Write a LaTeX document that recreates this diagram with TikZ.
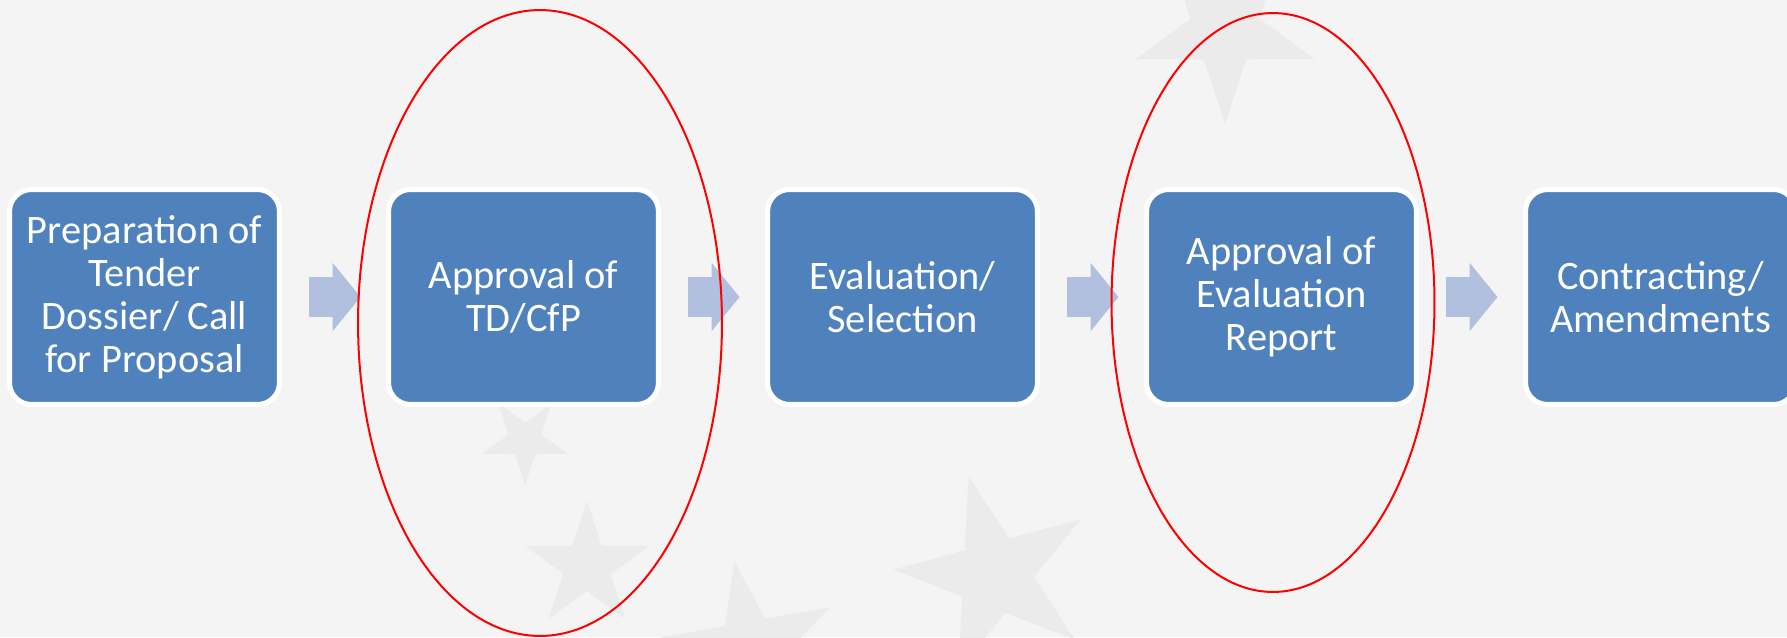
\documentclass[tikz,border=0pt]{standalone}
\usepackage{fontspec}
\setmainfont{Carlito}
\usetikzlibrary{arrows.meta,shapes.geometric}
\definecolor{boxblue}{RGB}{79,129,189}
\definecolor{arrowblue}{RGB}{176,192,222}
\definecolor{bggray}{RGB}{244,244,244}
\definecolor{stargray}{RGB}{235,235,235}
\tikzset{
  stepbox/.style={draw=white, line width=0.1cm, fill=boxblue, rounded corners=0.44cm,
    minimum width=5.4cm, minimum height=4.3cm, inner sep=0pt, align=center,
    text=white, font=\fontsize{23pt}{24.5pt}\selectfont},
  flow/.style={draw=arrowblue, line width=0.8cm, -{Triangle[length=0.56cm,width=1.34cm]},
    shorten <=0.55cm, shorten >=0.51cm},
  hilite/.style={draw=red, line width=0.04cm},
  bgstar/.style={star, star points=5, star point ratio=2.6, fill=stargray, inner sep=0pt}
}

\begin{document}
\begin{tikzpicture}[x=0.02cm,y=-0.02cm]
\def\pitch{379};
\useasboundingbox (0,0) rectangle (1787,637);
\clip (0,0) rectangle (1787,637);
\fill[bggray] (0,0) rectangle (1787,637);

% faint stars of the backdrop
\foreach \sx/\sy/\sr/\srot [count=\si] in {1225/30/94/36, 995/575/102/15, 587/566/65/0, 525/440/45/180, 750/650/90/10}{
      \node[bgstar, minimum size=2*\sr*0.02cm, rotate=\srot] (star\si) at (\sx,\sy) {};
      }

% the five steps, one pitch apart
\foreach \txt [count=\i] in {{Preparation of\\Tender\\Dossier/ Call\\for Proposal},
                             {Approval of\\TD/CfP},
                             {Evaluation/\\Selection},
                             {Approval of\\Evaluation\\Report},
                             {Contracting/\\Amendments}}{
      \node[stepbox] (b\i) at ({144.5+(\i-1)*\pitch},297) {\txt};
      }

% block arrows between the steps
\foreach \i [evaluate=\i as \j using int(\i+1)] in {1,...,4}{
      \draw[flow] (b\i) -- (b\j);
      }

% red rings round the two approvals
\draw[hilite] (540,323) ellipse [x radius=3.64cm, y radius=6.26cm];
\draw[hilite] (1273,302.5) ellipse [x radius=3.23cm, y radius=5.79cm];
\end{tikzpicture}
\end{document}
